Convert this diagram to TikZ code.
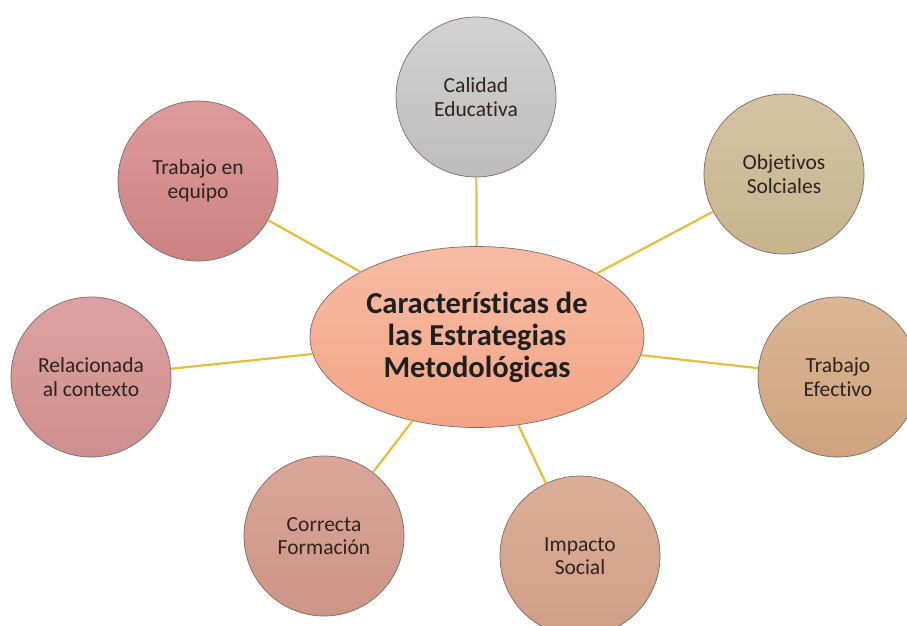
\documentclass[tikz,border=0pt]{standalone}
\usepackage{fontspec}
\setmainfont{Carlito}[Ligatures=NoCommon]
\usetikzlibrary{shapes.geometric}

\definecolor{linkgold}{HTML}{E6BE3A}
\definecolor{edgegray}{HTML}{7A6A66}
\definecolor{inkdark}{HTML}{2E221F}

\begin{document}
\begin{tikzpicture}[x=1pt,y=-1pt,
    topic/.style={circle,draw=edgegray,line width=0.7pt,minimum size=160pt,inner sep=0pt,
        align=center,text=inkdark,font=\fontsize{21.5}{23.5}\selectfont},
    core/.style={ellipse,draw=edgegray,line width=0.7pt,minimum width=334pt,minimum height=181pt,
        inner sep=0pt,align=center,text=black!88,font=\fontsize{30.5}{32}\selectfont\bfseries,
        top color=ellTop,bottom color=ellBot},
    link/.style={draw=linkgold,line width=2.2pt}]
                            \definecolor{ellTop}{HTML}{F7BBA4}
                            \definecolor{ellBot}{HTML}{F3A585}
                            \useasboundingbox (0,0) rectangle (907,626);
                            \path
                            (477,337) node[core](cent) {Características de\\las Estrategias\\Metodológicas}
                            (476,97) node[topic,top color=gray!35,bottom color=gray!52](cal) {Calidad\\Educativa}
                            (784,174) node[topic,top color={rgb,255:red,212;green,196;blue,164},bottom color={rgb,255:red,199;green,180;blue,142}](obj) {Objetivos\\Solciales}
                            (838,377) node[topic,top color={rgb,255:red,218;green,182;blue,148},bottom color={rgb,255:red,206;green,163;blue,126}](efe) {Trabajo\\Efectivo}
                            (580,556) node[topic,top color={rgb,255:red,220;green,175;blue,153},bottom color={rgb,255:red,208;green,158;blue,135}](imp) {Impacto\\Social}
                            (324,536) node[topic,top color={rgb,255:red,217;green,166;blue,153},bottom color={rgb,255:red,205;green,149;blue,135}](cor) {Correcta\\Formación}
                            (91,377) node[topic,top color={rgb,255:red,220;green,162;blue,161},bottom color={rgb,255:red,206;green,143;blue,142}](rel) {Relacionada\\al contexto}
                            (198,181) node[topic,top color={rgb,255:red,221;green,155;blue,155},bottom color={rgb,255:red,205;green,130;blue,130}](equ) {Trabajo en\\equipo};

                            \draw[link] (cent) -- (cal);
                            \draw[link] (cent) -- (obj);
                            \draw[link] (cent) -- (efe);
                            \draw[link] (cent) -- (imp);
                            \draw[link] (cent) -- (cor);
                            \draw[link] (cent) -- (rel);
                            \draw[link] (cent) -- (equ);
                        \end{tikzpicture}
\end{document}
